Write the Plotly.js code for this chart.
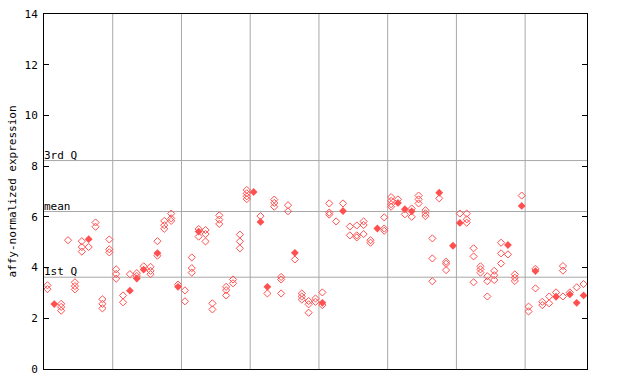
<!DOCTYPE html>
<html>
<head>
<meta charset="utf-8">
<script src="https://cdn.plot.ly/plotly-3.0.1.min.js"></script>
<style>html,body{margin:0;padding:0;background:#fff;}#chart{width:640px;height:384px;}</style>
</head>
<body>
<div id="chart"></div>
<script>
// Replicate values per sample (index = sample position along x)
const openValues = [
  [3.30, 3.15], [], [2.57, 2.45, 2.30], [5.08], [3.42, 3.27, 3.14],
  [5.04, 4.81, 4.63], [4.81], [5.78, 5.61], [2.75, 2.57, 2.39], [5.11, 4.72, 4.60],
  [3.93, 3.75, 3.56], [2.90, 2.63], [3.74], [3.78, 3.67], [4.05],
  [4.03, 3.87, 3.74], [5.04, 4.47], [5.84, 5.67, 5.53], [6.13, 5.94, 5.84], [3.33],
  [3.10, 2.67], [4.40, 3.98, 3.80], [5.52, 5.22], [5.48, 5.32, 5.03], [2.59, 2.35],
  [6.06, 5.89, 5.72], [3.24, 3.11, 2.90], [3.53, 3.38], [5.30, 5.03, 4.76], [7.06, 6.93, 6.81, 6.70],
  [], [6.03], [2.98], [6.68, 6.55, 6.40], [3.63, 3.53, 2.98],
  [6.46, 6.22], [4.32], [2.98, 2.86, 2.74], [2.68, 2.55, 2.22], [2.78, 2.65],
  [3.02, 2.52], [6.53, 6.17, 6.09], [5.82], [6.53], [5.62, 5.27],
  [5.66, 5.27, 5.19], [5.82, 5.68, 5.32], [5.08, 4.98], [], [5.98, 5.54, 5.45],
  [6.78, 6.63, 6.50, 6.40], [6.69], [6.10], [6.33, 6.00], [6.84, 6.69, 6.53],
  [6.26, 6.14, 6.03], [5.15, 4.36, 3.46], [6.73], [4.23, 4.15, 3.90], [],
  [6.13], [6.13, 5.90, 5.77], [4.76, 4.44, 3.42], [4.05, 3.93, 3.80], [3.66, 3.46, 2.86],
  [3.87, 3.70, 3.51], [4.98, 4.56, 4.16], [4.52], [3.73, 3.60, 3.47], [6.84],
  [2.46, 2.27], [3.95, 3.18], [2.65, 2.52], [2.86, 2.59], [3.02],
  [4.06, 3.88, 2.86], [3.02], [3.22], [3.35]
];
const filledValues = [
  [], [2.56], [], [], [], [], [5.12], [], [], [],
  [], [], [3.09], [3.57], [3.92], [], [4.57], [], [], [3.24],
  [], [], [5.42], [], [], [], [], [], [], [],
  [6.98], [5.80], [3.24], [], [], [], [4.58], [], [], [],
  [2.61], [], [], [6.23], [], [], [], [], [5.54], [],
  [], [6.55], [6.30], [6.22], [], [], [], [6.95], [], [4.86],
  [5.76], [], [], [], [], [], [], [4.89], [], [6.43],
  [], [3.86], [], [], [2.85], [], [2.94], [2.61], [2.90]
];
const groupBoundaries = [9.5, 19.5, 29.5, 39.5, 49.5, 59.5, 69.5];
const refLines = [
  {label: "3rd Q", value: 8.22},
  {label: "mean", value: 6.21},
  {label: "1st Q", value: 3.62}
];
const yTicks = [0, 2, 4, 6, 8, 10, 12, 14];

function flatten(vals) {
  const xs = [], ys = [];
  vals.forEach((arr, i) => arr.forEach(v => { xs.push(i); ys.push(v); }));
  return {xs, ys};
}
const o = flatten(openValues);
const f = flatten(filledValues);
const red = "#ff5050";
const mono = "DejaVu Sans Mono, monospace";

const traces = [
  {x: o.xs, y: o.ys, type: "scatter", mode: "markers", hoverinfo: "skip",
   marker: {symbol: "diamond-open", size: 5.5, color: red, line: {width: 1, color: red}}},
  {x: f.xs, y: f.ys, type: "scatter", mode: "markers", hoverinfo: "skip",
   marker: {symbol: "diamond", size: 6, color: red, line: {width: 0}}}
];

const shapes = [];
groupBoundaries.forEach(b => shapes.push({type: "line", xref: "x", yref: "paper", x0: b, x1: b, y0: 0, y1: 1,
  line: {color: "#a8a8a8", width: 1}, layer: "below"}));
refLines.forEach(r => shapes.push({type: "line", xref: "paper", yref: "y", x0: 0, x1: 1, y0: r.value, y1: r.value,
  line: {color: "#a8a8a8", width: 1}, layer: "below"}));

const annotations = refLines.map(r => ({
  text: r.label, xref: "paper", yref: "y", x: 0, y: r.value, xanchor: "left", yanchor: "bottom",
  showarrow: false, font: {family: mono, size: 11, color: "#000"}, bgcolor: "rgba(0,0,0,0)",
  borderpad: 0, xshift: -1, yshift: -2
}));

const layout = {
  width: 640, height: 384,
  margin: {l: 44, r: 53, t: 14, b: 15, pad: 0},
  paper_bgcolor: "#fff", plot_bgcolor: "#fff",
  showlegend: false,
  xaxis: {range: [-0.5, 78.5], showgrid: false, zeroline: false, showticklabels: false, ticks: "",
          showline: true, mirror: true, linecolor: "#000", linewidth: 1, fixedrange: true},
  yaxis: {range: [0, 14], tickvals: yTicks, ticktext: yTicks.map(String), showgrid: false, zeroline: false,
          ticks: "inside", ticklen: 5, tickcolor: "#000", showline: true, mirror: "ticks", linecolor: "#000", linewidth: 1,
          tickfont: {family: mono, size: 11, color: "#000"}, ticklabelstandoff: 3,
          title: {text: "affy-normalized expression", font: {family: mono, size: 11, color: "#000"}, standoff: 5},
          fixedrange: true},
  shapes: shapes,
  annotations: annotations
};
Plotly.newPlot("chart", traces, layout, {staticPlot: true, displayModeBar: false});
</script>
</body>
</html>
